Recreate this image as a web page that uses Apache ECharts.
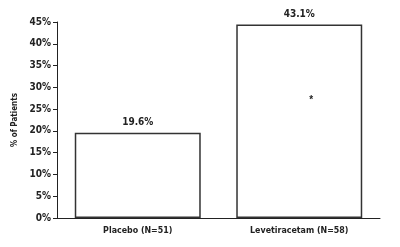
<!DOCTYPE html>
<html><head><meta charset="utf-8">
<script src="https://cdn.jsdelivr.net/npm/echarts@6/dist/echarts.min.js"></script>
<style>html,body{margin:0;padding:0;background:#fff}#c{width:400px;height:247px}</style>
</head><body><div id="c"></div>
<script>
const categories = ['Placebo (N=51)', 'Levetiracetam (N=58)'];
const barHeights = [19.6, 44.4];
const valueLabels = ['19.6%', '43.1%'];
const yTicks = [0, 5, 10, 15, 20, 25, 30, 35, 40, 45];
const yName = '% of Patients';
const marker = { category: 'Levetiracetam (N=58)', value: 27, text: '*' };

const font = "'DejaVu Sans Condensed', 'Liberation Sans', sans-serif";
const chart = echarts.init(document.getElementById('c'));
chart.setOption({
  animation: false,
  backgroundColor: '#fff',
  grid: { left: 57, right: 20, top: 22, bottom: 29 },
  xAxis: {
    type: 'category', data: categories,
    axisLine: { lineStyle: { color: '#222', width: 1 } },
    axisTick: { show: false },
    axisLabel: { color: '#222', fontFamily: font, fontWeight: 'bold', fontSize: 8.8, margin: 8 }
  },
  yAxis: {
    type: 'value', min: yTicks[0], max: yTicks[yTicks.length - 1], interval: 5,
    name: yName, nameLocation: 'middle', nameGap: 28,
    nameTextStyle: { color: '#222', fontFamily: font, fontWeight: 'bold', fontSize: 8 },
    axisLine: { show: true, lineStyle: { color: '#222', width: 1 } },
    axisTick: { show: true, length: 4, lineStyle: { color: '#222' } },
    splitLine: { show: false },
    axisLabel: { color: '#222', fontFamily: font, fontWeight: 'bold', fontSize: 10, margin: 6, formatter: '{value}%' }
  },
  series: [{
    type: 'bar', data: barHeights, barWidth: '78%',
    itemStyle: { color: '#fff', borderColor: '#333', borderWidth: 1.5 },
    label: { show: true, position: 'top', distance: 5, color: '#222', fontFamily: font, fontWeight: 'bold', fontSize: 10,
      formatter: p => valueLabels[p.dataIndex] },
    markPoint: {
      symbol: 'circle', symbolSize: 0,
      label: { show: true, formatter: marker.text, color: '#222', fontSize: 10, fontWeight: 'bold', offset: [12, 0] },
      data: [{ coord: [marker.category, marker.value] }]
    }
  }]
});
</script></body></html>
